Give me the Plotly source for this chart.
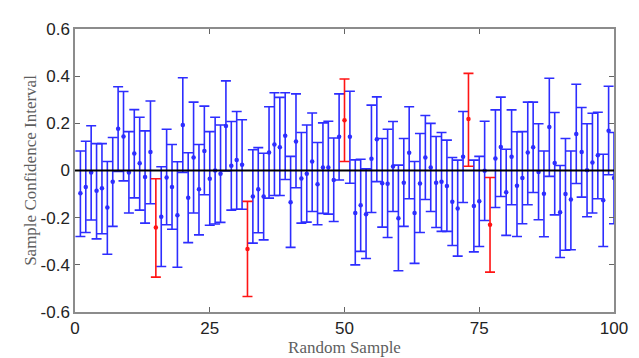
import plotly.graph_objects as go

samples = list(range(1, 101))
lower = [-0.28, -0.263, -0.21, -0.29, -0.268, -0.355, -0.237, -0.004, -0.044, -0.18,
         -0.116, -0.168, -0.223, -0.141, -0.452, -0.407, -0.23, -0.249, -0.41, -0.008,
         -0.306, -0.18, -0.273, -0.103, -0.232, -0.227, -0.22, -0.002, -0.168, -0.164,
         -0.164, -0.534, -0.308, -0.264, -0.294, -0.117, -0.106, -0.106, -0.038, -0.326,
         -0.073, -0.223, -0.219, -0.174, -0.23, -0.182, -0.185, -0.216, -0.04, 0.038,
         -0.054, -0.40, -0.343, -0.373, -0.178, -0.047, -0.24, -0.284, -0.174, -0.425,
         -0.237, -0.12, -0.394, -0.263, -0.123, -0.174, -0.242, -0.258, -0.258, -0.318,
         -0.363, -0.136, 0.018, -0.345, -0.322, -0.212, -0.431, -0.157, -0.11, -0.275,
         -0.145, -0.28, -0.226, -0.145, -0.093, -0.209, -0.281, -0.025, -0.188, -0.369,
         -0.338, -0.336, -0.055, -0.113, -0.196, -0.18, -0.12, -0.322, -0.018, -0.226]
means = [-0.096, -0.07, -0.008, -0.086, -0.075, -0.157, -0.048, 0.177, 0.144, -0.008,
         0.072, 0.031, -0.028, 0.078, -0.242, -0.196, -0.03, -0.07, -0.19, 0.193,
         -0.116, 0.055, -0.079, 0.083, -0.035, 0.0, -0.014, 0.189, 0.02, 0.045,
         0.024, -0.333, -0.11, -0.08, -0.11, 0.076, 0.11, 0.099, 0.147, -0.135,
         0.123, -0.034, -0.014, 0.038, -0.058, 0.013, 0.013, -0.04, 0.143, 0.213,
         0.143, -0.18, -0.147, -0.186, 0.05, 0.133, -0.054, -0.056, 0.017, -0.202,
         -0.052, 0.075, -0.18, -0.055, 0.055, 0.013, -0.052, -0.048, -0.066, -0.133,
         -0.161, 0.058, 0.218, -0.15, -0.13, -0.001, -0.23, 0.051, 0.1, -0.092,
         0.058, -0.065, -0.032, 0.076, 0.099, -0.006, -0.099, 0.184, 0.032, -0.177,
         -0.1, -0.123, 0.155, 0.078, 0.001, 0.034, 0.065, -0.126, 0.169, -0.032]
upper = [0.083, 0.124, 0.19, 0.114, 0.114, 0.038, 0.14, 0.355, 0.335, 0.165,
         0.258, 0.226, 0.168, 0.295, -0.035, 0.016, 0.175, 0.11, 0.037, 0.393,
         0.075, 0.29, 0.11, 0.273, 0.165, 0.226, 0.193, 0.38, 0.208, 0.25,
         0.215, -0.131, 0.088, 0.097, 0.073, 0.27, 0.33, 0.31, 0.33, 0.06,
         0.325, 0.161, 0.193, 0.244, 0.119, 0.202, 0.209, 0.138, 0.325, 0.388,
         0.336, 0.045, 0.048, 0.007, 0.277, 0.312, 0.136, 0.175, 0.208, 0.023,
         0.136, 0.27, 0.038, 0.157, 0.233, 0.2, 0.144, 0.161, 0.129, 0.055,
         0.044, 0.25, 0.412, 0.044, 0.06, 0.209, -0.03, 0.257, 0.311, 0.09,
         0.257, 0.164, 0.165, 0.29, 0.29, 0.198, 0.083, 0.391, 0.246, 0.021,
         0.136, 0.083, 0.366, 0.267, 0.198, 0.243, 0.247, 0.069, 0.357, 0.161]

x_ticks = [0, 25, 50, 75, 100]
y_ticks = [-0.6, -0.4, -0.2, 0, 0.2, 0.4, 0.6]
y_tick_labels = ["-0.6", "-0.4", "-0.2", "0", "0.2", "0.4", "0.6"]

BLUE = "rgb(45,45,255)"
RED = "rgb(255,20,20)"

fig = go.Figure()


def add_group(mask, color):
    xs = [s for s, m in zip(samples, mask) if m]
    ys = [v for v, m in zip(means, mask) if m]
    ep = [u - v for u, v, m in zip(upper, means, mask) if m]
    em = [v - l for l, v, m in zip(lower, means, mask) if m]
    fig.add_trace(go.Scatter(
        x=xs, y=ys, mode="markers",
        marker=dict(color=color, size=4.5),
        error_y=dict(type="data", symmetric=False, array=ep, arrayminus=em,
                     color=color, thickness=1.6, width=5),
        showlegend=False, hoverinfo="skip"))


miss = [(l > 0) or (u < 0) for l, u in zip(lower, upper)]
add_group([not m for m in miss], BLUE)
add_group(miss, RED)

fig.add_shape(type="line", xref="paper", yref="y", x0=0, x1=1, y0=0, y1=0,
              line=dict(color="black", width=2.2), layer="above")

axis_common = dict(showgrid=False, zeroline=False, showline=True, mirror="ticks",
                   linecolor="rgb(140,140,140)", linewidth=1.5, ticks="inside",
                   ticklen=5, tickcolor="rgb(100,100,100)", automargin=False,
                   tickfont=dict(family="Liberation Sans, Arial", size=17, color="rgb(35,35,35)"))

title_font = dict(family="Liberation Serif, Times New Roman", size=17, color="rgb(95,95,95)")

# the page body adds an 8px offset, so the figure is 8px smaller than the window
fig.update_layout(
    width=631, height=350,
    margin=dict(l=67, r=25, t=21, b=46),
    paper_bgcolor="white", plot_bgcolor="white",
    xaxis=dict(range=[0, 100], tickvals=x_ticks,
               title=dict(text="Random Sample", standoff=0, font=title_font),
               **axis_common),
    yaxis=dict(range=[-0.6, 0.6], tickvals=y_ticks, ticktext=y_tick_labels,
               title=dict(text="Sample Confidence Interval", standoff=0, font=title_font),
               **axis_common),
)

fig.write_html("out.html")
